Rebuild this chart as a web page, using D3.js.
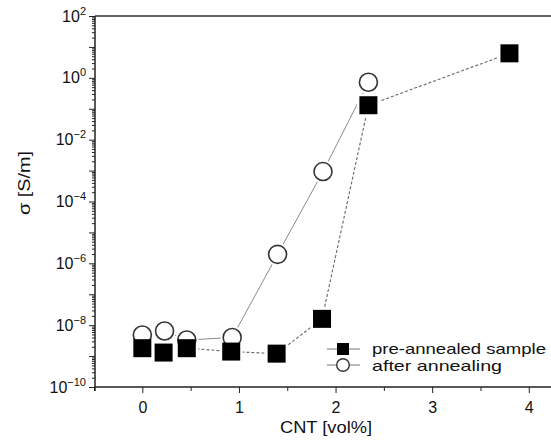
<!DOCTYPE html>
<html><head><meta charset="utf-8">
<script src="https://cdn.jsdelivr.net/npm/d3@7"></script>
<style>body{margin:0;background:#fff}svg{display:block}text{font-family:"Liberation Sans",Arial,Helvetica,sans-serif;fill:#111}</style>
</head><body>
<svg id="c" width="551" height="441"></svg>
<script>
const preX = [0, 0.22, 0.46, 0.92, 1.39, 1.86, 2.34, 3.80];
const preY = [1.8e-9, 1.3e-9, 1.8e-9, 1.4e-9, 1.2e-9, 1.6e-8, 0.13, 6.2];
const afterX = [0, 0.23, 0.46, 0.93, 1.40, 1.87, 2.34];
const afterY = [4.8e-9, 6.5e-9, 3.3e-9, 4.0e-9, 1.95e-6, 9.3e-4, 0.72];
const xTicks = [0, 1, 2, 3, 4];
const yExponents = [-10, -8, -6, -4, -2, 0, 2];
const seriesNames = ["pre-annealed sample", "after annealing"];

const svg = d3.select("#c");
const L = 95, R = 551, T = 16, B = 387;
const x = d3.scaleLinear().domain([-0.49, 4.23]).range([L, R]);
const y = d3.scaleLog().domain([1e-10, 1e2]).range([B, T]);

// y minor ticks
const minor = [];
for (let e = -10; e < 2; e++) for (let m = 2; m <= 9; m++) minor.push(m * Math.pow(10, e));
const decades = d3.range(-10, 3).map(e => Math.pow(10, e));
const ax = svg.append("g").attr("transform", `translate(${L},0)`);
ax.append("g").call(d3.axisLeft(y).tickValues(minor).tickSize(3).tickFormat(""));
ax.append("g").call(d3.axisLeft(y).tickValues(decades).tickSize(6).tickFormat(""));
ax.selectAll("path").remove();
ax.selectAll("line").attr("stroke", "#222").attr("stroke-width", 1);
// y labels
const yl = svg.append("g");
yExponents.forEach(e => {
  const t = yl.append("text").attr("x", 86).attr("y", y(Math.pow(10, e)) + 5.5)
    .attr("text-anchor", "end").attr("font-size", 16);
  t.append("tspan").text("10");
  t.append("tspan").attr("dy", -7).attr("font-size", 11).text(String(e).replace("-", "\u2212"));
});

// x axis
const xg = svg.append("g").attr("transform", `translate(0,${B})`);
xg.append("g").call(d3.axisBottom(x).tickValues([-0.5, 0.5, 1.5, 2.5, 3.5]).tickSize(4).tickFormat(""));
xg.append("g").call(d3.axisBottom(x).tickValues(xTicks).tickSize(6).tickFormat(d3.format("d")));
xg.selectAll("path").remove();
xg.selectAll("line").attr("stroke", "#222").attr("stroke-width", 1);
xg.selectAll("text").attr("font-size", 16).attr("dy", "1.05em").style("font-family", "Liberation Sans, Arial, sans-serif").attr("fill", "#111");

// frame lines
svg.append("line").attr("x1", L).attr("x2", R).attr("y1", B).attr("y2", B).attr("stroke", "#222").attr("stroke-width", 1.5);
svg.append("line").attr("x1", L).attr("x2", R).attr("y1", T).attr("y2", T).attr("stroke", "#333").attr("stroke-width", 1.5);
svg.append("line").attr("x1", L).attr("x2", L).attr("y1", T).attr("y2", B + 4).attr("stroke", "#222").attr("stroke-width", 1.5);

// titles
svg.append("text").attr("x", 326).attr("y", 433).attr("text-anchor", "middle").attr("font-size", 17)
  .attr("textLength", 92).attr("lengthAdjust", "spacingAndGlyphs").text("CNT [vol%]");
svg.append("text").attr("transform", "translate(30,183) rotate(-90)").attr("text-anchor", "middle").attr("font-size", 17)
  .attr("textLength", 64).attr("lengthAdjust", "spacingAndGlyphs").text("σ [S/m]");

const pre = preX.map((v, i) => [v, preY[i]]);
const aft = afterX.map((v, i) => [v, afterY[i]]);
const line = d3.line().x(d => x(d[0])).y(d => y(d[1]));
svg.append("path").attr("d", line(aft)).attr("fill", "none").attr("stroke", "#8a8a8a").attr("stroke-width", 1);
svg.append("path").attr("d", line(pre)).attr("fill", "none").attr("stroke", "#666").attr("stroke-width", 1.1).attr("stroke-dasharray", "3,2");

// halos
svg.append("g").selectAll("circle").data(aft).join("circle")
  .attr("cx", d => x(d[0])).attr("cy", d => y(d[1])).attr("r", 11.5).attr("fill", "#fff");
svg.append("g").selectAll("rect").data(pre).join("rect")
  .attr("x", d => x(d[0]) - 11.5).attr("y", d => y(d[1]) - 11.5).attr("width", 23).attr("height", 23).attr("fill", "#fff");
// markers
svg.append("g").selectAll("circle").data(aft).join("circle")
  .attr("cx", d => x(d[0])).attr("cy", d => y(d[1])).attr("r", 9)
  .attr("fill", "#fff").attr("stroke", "#333").attr("stroke-width", 1.6);
svg.append("g").selectAll("rect").data(pre).join("rect")
  .attr("x", d => x(d[0]) - 9).attr("y", d => y(d[1]) - 9).attr("width", 18).attr("height", 18).attr("fill", "#000");

// legend
const lg = svg.append("g");
lg.append("line").attr("x1", 327).attr("x2", 360).attr("y1", 349).attr("y2", 349).attr("stroke", "#777");
lg.append("rect").attr("x", 337).attr("y", 343).attr("width", 12).attr("height", 12).attr("fill", "#000");
lg.append("line").attr("x1", 327).attr("x2", 360).attr("y1", 365).attr("y2", 365).attr("stroke", "#777");
lg.append("circle").attr("cx", 343).attr("cy", 365).attr("r", 6.3).attr("fill", "#fff").attr("stroke", "#333").attr("stroke-width", 1.4);
lg.append("text").attr("x", 372).attr("y", 354).attr("font-size", 15)
  .attr("textLength", 174).attr("lengthAdjust", "spacingAndGlyphs").text(seriesNames[0]);
lg.append("text").attr("x", 372).attr("y", 371).attr("font-size", 15)
  .attr("textLength", 130).attr("lengthAdjust", "spacingAndGlyphs").text(seriesNames[1]);
</script>
</body></html>
